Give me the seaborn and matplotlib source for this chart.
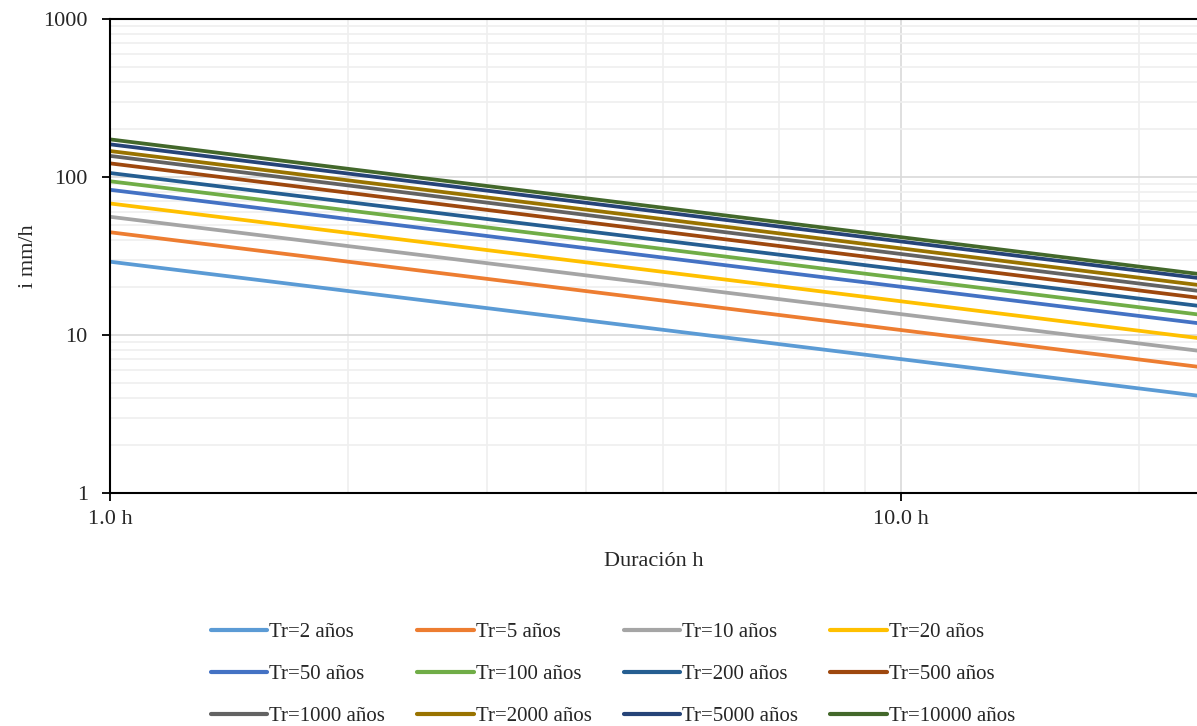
import numpy as np
import pandas as pd
import seaborn as sns
import matplotlib.pyplot as plt
from matplotlib.ticker import LogLocator, NullFormatter

# Return periods and intensities (mm/h) read at the chart edges (1 h and 24 h)
durations = [1.0, 24.0]
periods = ["2", "5", "10", "20", "50", "100", "200", "500",
           "1000", "2000", "5000", "10000"]
i_1h = [29.1, 44.7, 56.0, 68.0, 83.0, 94.0, 106.0, 122.0, 136.0, 146.0, 161.0, 173.0]
i_24h = [4.1, 6.25, 7.9, 9.5, 11.8, 13.4, 15.2, 17.1, 18.9, 20.6, 22.8, 24.2]
colors = ["#5B9BD5", "#ED7D31", "#A5A5A5", "#FFC000", "#4472C4", "#70AD47",
          "#255E91", "#9E480E", "#636363", "#997300", "#264478", "#43682B"]

rows = []
for p, a, b in zip(periods, i_1h, i_24h):
    name = f"Tr={p} años"
    rows.append({"dur": durations[0], "i": a, "serie": name})
    rows.append({"dur": durations[1], "i": b, "serie": name})
df = pd.DataFrame(rows)
names = [f"Tr={p} años" for p in periods]
palette = dict(zip(names, colors))

sns.set_theme(style="white")
plt.rcParams['font.family'] = ['Liberation Serif', 'DejaVu Serif']

fig = plt.figure(figsize=(11.97, 7.26), dpi=100)
ax = fig.add_axes([110/1197, 1 - 493/726, 1 - 110/1197, (493 - 19)/726])

sns.lineplot(data=df, x="dur", y="i", hue="serie", hue_order=names,
             palette=palette, linewidth=2.7, ax=ax, legend=False)

ax.set_xscale("log")
ax.set_yscale("log")
ax.set_xlim(1, 23.66)
ax.set_ylim(1, 1000)

ax.set_xticks([1, 10], ["1.0 h", "10.0 h"])
ax.set_yticks([1, 10, 100, 1000], ["1", "10", "100", "1000"])
ax.xaxis.set_minor_locator(LogLocator(base=10, subs=np.arange(2, 10)))
ax.yaxis.set_minor_locator(LogLocator(base=10, subs=np.arange(2, 10)))
ax.xaxis.set_minor_formatter(NullFormatter())
ax.yaxis.set_minor_formatter(NullFormatter())
ax.tick_params(which="minor", length=0)
ax.tick_params(which="major", direction="out", length=6, width=1.3,
               color="black", labelsize=16, bottom=True, left=True)
ax.tick_params(axis="x", pad=6)
ax.tick_params(axis="y", pad=10)

ax.grid(which="major", color="#d9d9d9", linewidth=1.2)
ax.grid(which="minor", color="#efefef", linewidth=1.2)
ax.set_axisbelow(True)

for s in ["left", "bottom", "top"]:
    ax.spines[s].set_color("black")
    ax.spines[s].set_linewidth(1.5)
ax.spines["right"].set_visible(False)

ax.set_xlabel("Duración h", fontsize=16, labelpad=17)
ax.set_ylabel("i mm/h", fontsize=16, labelpad=4)

# legend filled row by row, 4 columns
handles = ax.get_lines()[:len(names)]
order = [0, 4, 8, 1, 5, 9, 2, 6, 10, 3, 7, 11]
leg = fig.legend([handles[k] for k in order], [names[k] for k in order],
                 loc="upper center", bbox_to_anchor=(0.512, 0.168), ncol=4,
                 frameon=False, fontsize=15, handlelength=2.7,
                 handletextpad=0.1, columnspacing=1.55, labelspacing=1.07)
for line in leg.get_lines():
    line.set_linewidth(3)

fig.savefig("out.png", dpi=100)
